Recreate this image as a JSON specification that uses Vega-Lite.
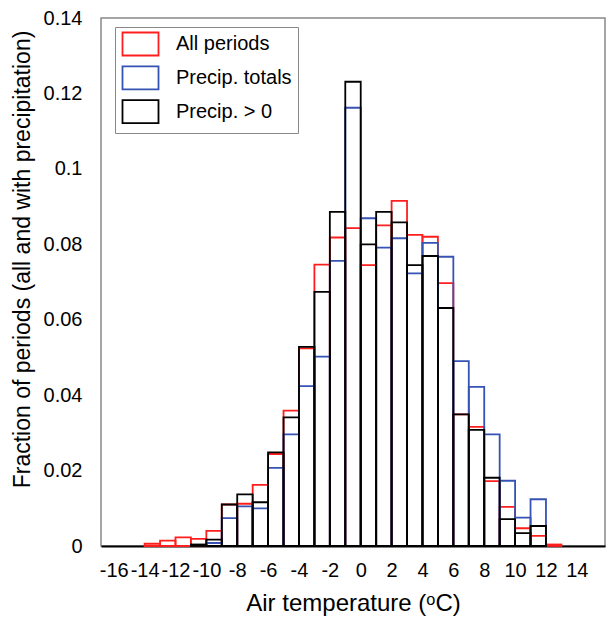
{
  "$schema": "https://vega.github.io/schema/vega-lite/v6.json",
  "width": 504,
  "height": 528,
  "autosize": {"type": "none"},
  "padding": {"left": 101, "top": 18, "right": 5, "bottom": 76},
  "background": "white",
  "config": {
    "font": "Liberation Sans",
    "view": {"stroke": "#888888", "strokeWidth": 1.5}
  },
  "data": {
    "values": [
      {"t": -14, "t2": -13, "series": "All periods", "f": 0.0006},
      {"t": -13, "t2": -12, "series": "All periods", "f": 0.0014},
      {"t": -12, "t2": -11, "series": "All periods", "f": 0.0023},
      {"t": -11, "t2": -10, "series": "All periods", "f": 0.0019},
      {"t": -10, "t2": -9, "series": "All periods", "f": 0.004},
      {"t": -9, "t2": -8, "series": "All periods", "f": 0.011},
      {"t": -8, "t2": -7, "series": "All periods", "f": 0.0112},
      {"t": -7, "t2": -6, "series": "All periods", "f": 0.0162},
      {"t": -6, "t2": -5, "series": "All periods", "f": 0.0244},
      {"t": -5, "t2": -4, "series": "All periods", "f": 0.0359},
      {"t": -4, "t2": -3, "series": "All periods", "f": 0.0524},
      {"t": -3, "t2": -2, "series": "All periods", "f": 0.0746},
      {"t": -2, "t2": -1, "series": "All periods", "f": 0.0818},
      {"t": -1, "t2": 0, "series": "All periods", "f": 0.0843},
      {"t": 0, "t2": 1, "series": "All periods", "f": 0.0745},
      {"t": 1, "t2": 2, "series": "All periods", "f": 0.085},
      {"t": 2, "t2": 3, "series": "All periods", "f": 0.0915},
      {"t": 3, "t2": 4, "series": "All periods", "f": 0.0825},
      {"t": 4, "t2": 5, "series": "All periods", "f": 0.082},
      {"t": 5, "t2": 6, "series": "All periods", "f": 0.0697},
      {"t": 6, "t2": 7, "series": "All periods", "f": 0.0349},
      {"t": 7, "t2": 8, "series": "All periods", "f": 0.0316},
      {"t": 8, "t2": 9, "series": "All periods", "f": 0.0172},
      {"t": 9, "t2": 10, "series": "All periods", "f": 0.0104},
      {"t": 10, "t2": 11, "series": "All periods", "f": 0.0047},
      {"t": 11, "t2": 12, "series": "All periods", "f": 0.0027},
      {"t": 12, "t2": 13, "series": "All periods", "f": 0.0004},

      {"t": -10, "t2": -9, "series": "Precip. totals", "f": 0.0008},
      {"t": -9, "t2": -8, "series": "Precip. totals", "f": 0.0074},
      {"t": -8, "t2": -7, "series": "Precip. totals", "f": 0.0105},
      {"t": -7, "t2": -6, "series": "Precip. totals", "f": 0.01},
      {"t": -6, "t2": -5, "series": "Precip. totals", "f": 0.0207},
      {"t": -5, "t2": -4, "series": "Precip. totals", "f": 0.0296},
      {"t": -4, "t2": -3, "series": "Precip. totals", "f": 0.0424},
      {"t": -3, "t2": -2, "series": "Precip. totals", "f": 0.0502},
      {"t": -2, "t2": -1, "series": "Precip. totals", "f": 0.0756},
      {"t": -1, "t2": 0, "series": "Precip. totals", "f": 0.1162},
      {"t": 0, "t2": 1, "series": "Precip. totals", "f": 0.0869},
      {"t": 1, "t2": 2, "series": "Precip. totals", "f": 0.0791},
      {"t": 2, "t2": 3, "series": "Precip. totals", "f": 0.0816},
      {"t": 3, "t2": 4, "series": "Precip. totals", "f": 0.0723},
      {"t": 4, "t2": 5, "series": "Precip. totals", "f": 0.0804},
      {"t": 5, "t2": 6, "series": "Precip. totals", "f": 0.0767},
      {"t": 6, "t2": 7, "series": "Precip. totals", "f": 0.049},
      {"t": 7, "t2": 8, "series": "Precip. totals", "f": 0.0422},
      {"t": 8, "t2": 9, "series": "Precip. totals", "f": 0.0296},
      {"t": 9, "t2": 10, "series": "Precip. totals", "f": 0.0173},
      {"t": 10, "t2": 11, "series": "Precip. totals", "f": 0.0075},
      {"t": 11, "t2": 12, "series": "Precip. totals", "f": 0.0124},

      {"t": -11, "t2": -10, "series": "Precip. > 0", "f": 0.0004},
      {"t": -10, "t2": -9, "series": "Precip. > 0", "f": 0.0017},
      {"t": -9, "t2": -8, "series": "Precip. > 0", "f": 0.011},
      {"t": -8, "t2": -7, "series": "Precip. > 0", "f": 0.0137},
      {"t": -7, "t2": -6, "series": "Precip. > 0", "f": 0.0116},
      {"t": -6, "t2": -5, "series": "Precip. > 0", "f": 0.0248},
      {"t": -5, "t2": -4, "series": "Precip. > 0", "f": 0.0341},
      {"t": -4, "t2": -3, "series": "Precip. > 0", "f": 0.0528},
      {"t": -3, "t2": -2, "series": "Precip. > 0", "f": 0.0674},
      {"t": -2, "t2": -1, "series": "Precip. > 0", "f": 0.0886},
      {"t": -1, "t2": 0, "series": "Precip. > 0", "f": 0.1231},
      {"t": 0, "t2": 1, "series": "Precip. > 0", "f": 0.08},
      {"t": 1, "t2": 2, "series": "Precip. > 0", "f": 0.0886},
      {"t": 2, "t2": 3, "series": "Precip. > 0", "f": 0.0858},
      {"t": 3, "t2": 4, "series": "Precip. > 0", "f": 0.0745},
      {"t": 4, "t2": 5, "series": "Precip. > 0", "f": 0.0769},
      {"t": 5, "t2": 6, "series": "Precip. > 0", "f": 0.0631},
      {"t": 6, "t2": 7, "series": "Precip. > 0", "f": 0.0349},
      {"t": 7, "t2": 8, "series": "Precip. > 0", "f": 0.0308},
      {"t": 8, "t2": 9, "series": "Precip. > 0", "f": 0.0181},
      {"t": 9, "t2": 10, "series": "Precip. > 0", "f": 0.0071},
      {"t": 10, "t2": 11, "series": "Precip. > 0", "f": 0.0034},
      {"t": 11, "t2": 12, "series": "Precip. > 0", "f": 0.0053}
    ]
  },
  "mark": {"type": "bar", "orient": "vertical", "filled": false, "fill": "transparent"},
  "encoding": {
    "x": {
      "field": "t",
      "type": "quantitative",
      "scale": {"domain": [-16.5, 15.5], "nice": false, "zero": false},
      "axis": {
        "title": "Air temperature (ᵒC)",
        "titleFontSize": 24,
        "titleFontWeight": "normal",
        "titleColor": "black",
        "titleX": 252,
        "titleY": 57,
        "titleBaseline": "middle",
        "values": [-16, -14, -12, -10, -8, -6, -4, -2, 0, 2, 4, 6, 8, 10, 12, 14],
        "labelExpr": "replace(datum.label, '−', '-')",
        "labelFontSize": 20,
        "labelColor": "black",
        "labelOverlap": false,
        "labelFlush": false,
        "labelPadding": 14,
        "ticks": false,
        "grid": false,
        "domainColor": "black",
        "domainWidth": 2
      }
    },
    "x2": {"field": "t2"},
    "y": {
      "field": "f",
      "type": "quantitative",
      "scale": {"domain": [0, 0.14], "nice": false},
      "axis": {
        "title": "Fraction of periods (all and with precipitation)",
        "titleFontSize": 23,
        "titleFontWeight": "normal",
        "titleColor": "black",
        "titleX": -79,
        "titleY": 241,
        "titleAngle": -90,
        "titleBaseline": "middle",
        "titleAlign": "center",
        "values": [0, 0.02, 0.04, 0.06, 0.08, 0.1, 0.12, 0.14],
        "labelExpr": "datum.value == 0 ? '0' : format(datum.value, '.2~f')",
        "labelFontSize": 20,
        "labelColor": "black",
        "labelPadding": 19,
        "labelFlush": false,
        "ticks": false,
        "grid": false,
        "domain": false
      }
    },
    "y2": {"datum": 0},
    "stroke": {
      "field": "series",
      "type": "nominal",
      "sort": null,
      "scale": {
        "domain": ["All periods", "Precip. totals", "Precip. > 0"],
        "range": ["#ff1e1e", "#3653b3", "#000000"]
      },
      "legend": {
        "title": null,
        "orient": "none",
        "legendX": 14,
        "legendY": 9,
        "padding": 6,
        "rowPadding": 1.8,
        "strokeColor": "#888888",
        "fillColor": "white",
        "symbolType": "M-1.8,-1.15H1.8V1.15H-1.8Z",
        "symbolSize": 400,
        "symbolStrokeWidth": 2,
        "symbolFillColor": "transparent",
        "symbolOffset": 8.5,
        "labelOffset": 24.5,
        "labelFontSize": 20,
        "labelColor": "black",
        "labelLimit": 300
      }
    },
    "strokeWidth": {
      "field": "series",
      "type": "nominal",
      "scale": {
        "domain": ["All periods", "Precip. totals", "Precip. > 0"],
        "range": [1.8, 1.8, 2.4]
      },
      "legend": null
    }
  }
}
